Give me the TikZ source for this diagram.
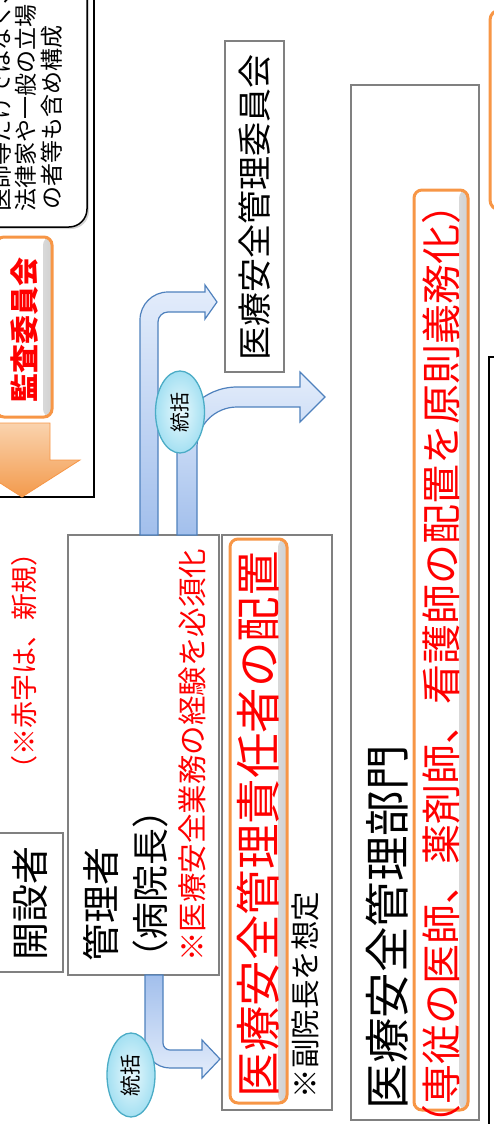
\documentclass[tikz,border=0pt]{standalone}
\usepackage{fontspec}
\setmainfont{Noto Sans CJK JP}
\usetikzlibrary{shapes.geometric,shadows}
\definecolor{org}{HTML}{F79646}
\definecolor{boxgray}{HTML}{808080}
\definecolor{blueline}{HTML}{4F81BD}
\definecolor{bluelight}{HTML}{E4EDFB}
\definecolor{bluedark}{HTML}{A2BFEC}
\definecolor{tealline}{HTML}{4BACC6}
\definecolor{cyanin}{HTML}{EAF9FD}
\definecolor{cyanout}{HTML}{A4E0F2}
\definecolor{orglight}{HTML}{FAD3AE}
\definecolor{orgdark}{HTML}{F39A4C}
\begin{document}
\begin{tikzpicture}[x=1pt,y=-1pt,
  fz/.style={font=\fontsize{#1}{#1}\selectfont},
  txt/.style={rotate=90,inner sep=0pt,outer sep=0pt},
  gbox/.style={draw=boxgray,line width=1.1pt},
  obox/.style={draw=org,line width=3pt,rounded corners=8pt,fill=white,
    path picture={\shade[left color=white,right color=black!18]
      ([xshift=-9pt]path picture bounding box.north east) rectangle (path picture bounding box.south east);}},
  barrow/.style={draw=blueline,line width=1.2pt},
  tokatsu/.style={ellipse,rotate=90,draw=tealline,line width=1.3pt,inner color=cyanin,outer color=cyanout,inner sep=0pt}
]
\useasboundingbox (0,0) rectangle (494,1124);
\clip (0,0) rectangle (494,1124);

% left outer black box
\draw[black,line width=2.2pt] (-10,-10) rectangle (94,497);
% callout
\draw[black,line width=1.5pt,fill=white,rounded corners=18pt,drop shadow={opacity=0.35,shadow xshift=2pt,shadow yshift=-2pt}] (-30,-30) rectangle (87,227);
\node[txt,fz=23,anchor=west] (c1) at (1,211) {医師等だけではなく、};
\node[txt,fz=23,anchor=west] (c2) at (26,211) {法律家や一般の立場};
\node[txt,fz=23,anchor=west] (c3) at (52,209) {の者等も含め構成};
% kansa iinkai
\draw[obox] (-4,237) rectangle (52,417);
\node[txt,fz=29,text=red,font=\fontsize{29}{29}\selectfont\bfseries] (kansa) at (25,330) {監査委員会};
% orange arrow
\draw[draw=org,line width=0.8pt,top color=orglight,bottom color=orgdark]
  (-6,423) -- (50,423) -- (50,460) -- (80,460) -- (22,497) -- (-36,460) -- (-6,460) -- cycle;

% kaisetsusha
\draw[gbox] (-5,833) rectangle (63,972);
\node[txt,fz=38] (kaisetsu) at (30,903) {開設者};
\node[txt,fz=27,text=red] (note) at (24,661) {（※赤字は、新規）};

% kanrisha box
\draw[gbox] (68,535) rectangle (219,975);
\node[txt,fz=38] (kanrisha) at (101,904) {管理者};
\node[txt,fz=37] (byoin) at (150,884) {（病院長）};
\node[txt,fz=29.5,text=red] (keiken) at (192,755) {※医療安全業務の経験を必須化};

% sekininsha
\draw[gbox] (222,535) rectangle (332,1110);
\draw[obox] (230,539) rectangle (287,1103);
\node[txt,fz=45.5,text=red] (sekinin) at (258,824) {医療安全管理責任者の配置};
\node[txt,fz=29.5] (fuku) at (305,995) {※副院長を想定};

% iinkai
\draw[gbox] (225,41) rectangle (284,372);
\node[txt,fz=34] (iinkai) at (255,207) {医療安全管理委員会};

% bumon
\draw[gbox] (351,85) rectangle (479,1120);
\draw[obox] (414,190) rectangle (468,1110);
\node[txt,fz=45.5] (bumon) at (387,927) {医療安全管理部門};
\node[txt,fz=40,text=red] (senju) at (441,664) {（専従の医師、薬剤師、看護師の配置を原則義務化）};

% right edge partial boxes
\draw[black,line width=2pt] (489,357) rectangle (540,1150);
\draw[draw=org,line width=3pt,rounded corners=10pt,fill=white] (490,10) rectangle (540,210);

% blue arrows
\draw[barrow,top color=bluelight,bottom color=bluedark]
  (140,535) -- (140,320) .. controls (140,304.5) and (152.5,292) .. (168,292)
  -- (205,292) -- (205,285) -- (217,302) -- (205,319) -- (205,312) -- (168,312)
  .. controls (162.5,312) and (158,316.5) .. (158,322) -- (158,535) -- cycle;
\draw[barrow,top color=bluelight,bottom color=bluedark]
  (177,535) -- (177,447) .. controls (177,413.9) and (203.9,387) .. (237,387)
  -- (300,387) -- (300,372) -- (325,397) -- (300,422) -- (300,407) -- (237,407)
  .. controls (214.9,407) and (197,424.9) .. (197,447) -- (197,535) -- cycle;
\draw[barrow,top color=bluedark,bottom color=bluelight]
  (145,975) -- (145,1043) .. controls (145,1056.8) and (156.2,1068) .. (170,1068)
  -- (202,1068) -- (202,1078) -- (220,1059) -- (202,1040) -- (202,1050) -- (170,1050)
  .. controls (166.1,1050) and (163,1046.9) .. (163,1043) -- (163,975) -- cycle;

\node[tokatsu,minimum width=82pt,minimum height=49pt,fz=20] (t1) at (180,412) {統括};
\node[tokatsu,minimum width=84pt,minimum height=48pt,fz=21] (t2) at (131,1075) {統括};
\end{tikzpicture}
\end{document}
